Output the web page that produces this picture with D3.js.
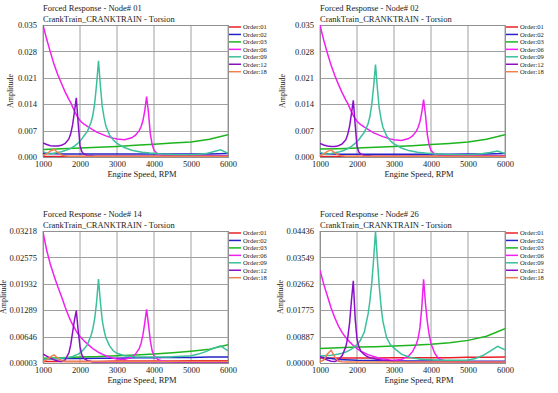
<!DOCTYPE html>
<html>
<head>
<meta charset="utf-8">
<script src="https://d3js.org/d3.v7.min.js"></script>
<style>
body { margin: 0; background: #fff; }
svg text { font-family: "Liberation Serif", "Times New Roman", serif; fill: #222; }
</style>
</head>
<body>
<div id="chart"></div>
<script>
// engine speed samples (RPM)
var rpm = [1000,1100,1200,1300,1400,1500,1600,1700,1750,1800,1850,1900,1950,2000,2050,2100,2200,2300,2350,2400,2450,2500,2550,2600,2650,2700,2800,2900,3000,3200,3400,3500,3600,3650,3700,3750,3800,3850,3900,3950,4000,4100,4200,4400,4600,4800,5000,5200,5400,5600,5800,6000];
var rpmCoarse = [1000,1500,2000,2500,3000,3500,4000,4500,5000,5500,6000];
var rpmTicks = [1000,2000,3000,4000,5000,6000];

var orderNames = ["Order:01","Order:02","Order:03","Order:06","Order:09","Order:12","Order:18"];
var orderColors = ["#e8202a","#2424c8","#1eb41e","#f020f0","#3cc09c","#8a10c8","#f08050"];

// ---- Node 01
var n01Labels = ["0.000","0.007","0.014","0.021","0.028","0.035"];
var n01o01 = [0.0001,0.0001,0.0001,0.0001,0.0001,0.0001,0.0001,0.0001,0.0001,0.0001,0.0001];
var n01o02 = [0.0010,0.0008,0.0008,0.0008,0.0008,0.0008,0.0008,0.0008,0.0008,0.0008,0.0009];
var n01o03 = [0.0020,0.0022,0.0024,0.0026,0.0028,0.0031,0.0034,0.0037,0.0040,0.0047,0.0059];
var n01o06 = [0.0350,0.0312,0.0278,0.0245,0.0218,0.0195,0.0172,0.0153,0.0144,0.0133,
  0.0122,0.0112,0.0104,0.0097,0.0092,0.0088,0.0081,0.0075,0.0072,0.0069,
  0.0066,0.0064,0.0062,0.0060,0.0058,0.0056,0.0053,0.0050,0.0048,0.0046,
  0.0051,0.0058,0.0070,0.0080,0.0096,0.0122,0.0160,0.0118,0.0062,0.0033,
  0.0018,0.0008,0.0005,0.0004,0.0003,0.0003,0.0003,0.0003,0.0003,0.0003,0.0003,0.0003];
var n01o09 = [0.0015,0.0009,0.0008,0.0010,0.0012,0.0014,0.0017,0.0021,0.0023,0.0026,
  0.0029,0.0033,0.0037,0.0042,0.0048,0.0055,0.0068,0.0092,0.0112,0.0145,
  0.0195,0.0255,0.0190,0.0135,0.0105,0.0082,0.0058,0.0045,0.0036,0.0025,
  0.0018,0.0016,0.0014,0.0013,0.0012,0.0012,0.0011,0.0011,0.0010,0.0010,
  0.0010,0.0009,0.0008,0.0007,0.0006,0.0006,0.0006,0.0007,0.0009,0.0014,0.0019,0.0010];
var n01o12 = [0.0037,0.0033,0.0030,0.0029,0.0029,0.0031,0.0036,0.0048,0.0062,0.0085,
  0.0120,0.0157,0.0090,0.0030,0.0014,0.0008,0.0004,0.0003,0.0003,0.0002,
  0.0002,0.0002,0.0002,0.0002,0.0002,0.0002,0.0002,0.0002,0.0002,0.0002,
  0.0002,0.0002,0.0002,0.0002,0.0002,0.0002,0.0002,0.0002,0.0002,0.0002,
  0.0002,0.0002,0.0002,0.0002,0.0002,0.0002,0.0002,0.0002,0.0002,0.0002,0.0002,0.0002];
var n01o18 = [0.0003,0.0008,0.0016,0.0020,0.0012,0.0005,0.0003,0.0002,0.0002,0.0002,
  0.0002,0.0002,0.0002,0.0002,0.0002,0.0002,0.0002,0.0002,0.0002,0.0002,
  0.0002,0.0002,0.0002,0.0002,0.0002,0.0002,0.0002,0.0002,0.0002,0.0002,
  0.0002,0.0002,0.0002,0.0002,0.0002,0.0002,0.0002,0.0002,0.0002,0.0002,
  0.0002,0.0002,0.0002,0.0002,0.0002,0.0002,0.0002,0.0002,0.0002,0.0002,0.0002,0.0002];

// ---- Node 02
var n02Labels = ["0.000","0.007","0.014","0.021","0.028","0.035"];
var n02o01 = [0.0001,0.0001,0.0001,0.0001,0.0001,0.0001,0.0001,0.0001,0.0001,0.0001,0.0001];
var n02o02 = [0.0009,0.0007,0.0007,0.0007,0.0007,0.0007,0.0007,0.0007,0.0008,0.0008,0.0009];
var n02o03 = [0.0021,0.0022,0.0024,0.0026,0.0028,0.0030,0.0033,0.0036,0.0040,0.0047,0.0059];
var n02o06 = [0.0350,0.0310,0.0275,0.0243,0.0216,0.0192,0.0170,0.0151,0.0142,0.0131,
  0.0120,0.0110,0.0102,0.0095,0.0090,0.0086,0.0079,0.0073,0.0070,0.0067,
  0.0064,0.0062,0.0060,0.0058,0.0056,0.0054,0.0051,0.0048,0.0046,0.0044,
  0.0049,0.0056,0.0068,0.0078,0.0093,0.0118,0.0152,0.0112,0.0060,0.0032,
  0.0017,0.0008,0.0005,0.0004,0.0003,0.0003,0.0003,0.0003,0.0003,0.0003,0.0003,0.0003];
var n02o09 = [0.0013,0.0008,0.0008,0.0009,0.0011,0.0013,0.0016,0.0020,0.0022,0.0025,
  0.0028,0.0032,0.0036,0.0041,0.0046,0.0053,0.0066,0.0088,0.0108,0.0140,
  0.0188,0.0245,0.0183,0.0130,0.0101,0.0079,0.0056,0.0043,0.0035,0.0024,
  0.0017,0.0015,0.0013,0.0012,0.0012,0.0011,0.0011,0.0010,0.0010,0.0009,
  0.0009,0.0008,0.0008,0.0007,0.0006,0.0006,0.0006,0.0007,0.0009,0.0012,0.0016,0.0009];
var n02o12 = [0.0036,0.0032,0.0029,0.0028,0.0028,0.0030,0.0035,0.0046,0.0060,0.0082,
  0.0115,0.0150,0.0086,0.0029,0.0013,0.0008,0.0004,0.0003,0.0003,0.0002,
  0.0002,0.0002,0.0002,0.0002,0.0002,0.0002,0.0002,0.0002,0.0002,0.0002,
  0.0002,0.0002,0.0002,0.0002,0.0002,0.0002,0.0002,0.0002,0.0002,0.0002,
  0.0002,0.0002,0.0002,0.0002,0.0002,0.0002,0.0002,0.0002,0.0002,0.0002,0.0002,0.0002];
var n02o18 = [0.0003,0.0008,0.0015,0.0019,0.0011,0.0005,0.0003,0.0002,0.0002,0.0002,
  0.0002,0.0002,0.0002,0.0002,0.0002,0.0002,0.0002,0.0002,0.0002,0.0002,
  0.0002,0.0002,0.0002,0.0002,0.0002,0.0002,0.0002,0.0002,0.0002,0.0002,
  0.0002,0.0002,0.0002,0.0002,0.0002,0.0002,0.0002,0.0002,0.0002,0.0002,
  0.0002,0.0002,0.0002,0.0002,0.0002,0.0002,0.0002,0.0002,0.0002,0.0002,0.0002,0.0002];

// ---- Node 14
var n14Labels = ["0.00003","0.00646","0.01289","0.01932","0.02575","0.03218"];
var n14o01 = [0.0004,0.0004,0.0004,0.0004,0.0005,0.0005,0.0005,0.0005,0.0006,0.0006,0.0006];
var n14o02 = [0.0010,0.0011,0.0011,0.0012,0.0012,0.0013,0.0013,0.0014,0.0014,0.0015,0.0015];
var n14o03 = [0.0012,0.0013,0.0015,0.0016,0.0018,0.0020,0.0022,0.0025,0.0029,0.0034,0.0045];
var n14o06 = [0.0319,0.0275,0.0240,0.0212,0.0186,0.0162,0.0136,0.0113,0.0103,0.0094,
  0.0086,0.0078,0.0071,0.0065,0.0060,0.0055,0.0047,0.0039,0.0035,0.0032,
  0.0029,0.0026,0.0024,0.0022,0.0020,0.0018,0.0015,0.0012,0.0010,0.0009,
  0.0015,0.0022,0.0035,0.0048,0.0068,0.0098,0.0131,0.0095,0.0055,0.0030,
  0.0018,0.0009,0.0006,0.0004,0.0003,0.0003,0.0003,0.0003,0.0003,0.0003,0.0003,0.0003];
var n14o09 = [0.0010,0.0010,0.0010,0.0011,0.0011,0.0012,0.0013,0.0014,0.0015,0.0016,
  0.0018,0.0020,0.0022,0.0025,0.0029,0.0033,0.0045,0.0068,0.0085,0.0110,
  0.0150,0.0205,0.0150,0.0105,0.0080,0.0062,0.0042,0.0030,0.0024,0.0018,
  0.0016,0.0015,0.0015,0.0015,0.0015,0.0015,0.0015,0.0015,0.0015,0.0015,
  0.0015,0.0015,0.0015,0.0015,0.0016,0.0017,0.0018,0.0022,0.0028,0.0036,0.0042,0.0030];
var n14o12 = [0.0022,0.0017,0.0012,0.0008,0.0005,0.0004,0.0008,0.0025,0.0045,0.0075,
  0.0105,0.0128,0.0080,0.0040,0.0020,0.0012,0.0006,0.0004,0.0003,0.0003,
  0.0003,0.0003,0.0003,0.0003,0.0003,0.0003,0.0003,0.0003,0.0003,0.0003,
  0.0003,0.0003,0.0003,0.0003,0.0003,0.0003,0.0003,0.0003,0.0003,0.0003,
  0.0003,0.0003,0.0003,0.0003,0.0003,0.0003,0.0003,0.0003,0.0003,0.0003,0.0003,0.0003];
var n14o18 = [0.0004,0.0008,0.0015,0.0020,0.0012,0.0006,0.0004,0.0004,0.0004,0.0004,
  0.0004,0.0004,0.0004,0.0004,0.0004,0.0004,0.0004,0.0004,0.0004,0.0004,
  0.0004,0.0004,0.0004,0.0004,0.0004,0.0004,0.0004,0.0004,0.0004,0.0004,
  0.0004,0.0004,0.0004,0.0004,0.0004,0.0004,0.0004,0.0004,0.0004,0.0004,
  0.0004,0.0004,0.0004,0.0004,0.0004,0.0004,0.0004,0.0004,0.0004,0.0004,0.0004,0.0004];

// ---- Node 26
var n26Labels = ["0.00000","0.00887","0.01775","0.02662","0.03549","0.04436"];
var n26o01 = [0.0017,0.0017,0.0017,0.0017,0.0018,0.0018,0.0018,0.0018,0.0019,0.0019,0.0020];
var n26o02 = [0.0020,0.0012,0.0009,0.0008,0.0007,0.0007,0.0007,0.0006,0.0006,0.0006,0.0006];
var n26o03 = [0.0049,0.0051,0.0054,0.0055,0.0057,0.0060,0.0063,0.0068,0.0076,0.0090,0.0115];
var n26o06 = [0.0312,0.0265,0.0225,0.0185,0.0152,0.0124,0.0102,0.0085,0.0078,0.0071,
  0.0065,0.0059,0.0054,0.0048,0.0044,0.0040,0.0034,0.0028,0.0026,0.0024,
  0.0022,0.0020,0.0018,0.0017,0.0015,0.0014,0.0012,0.0010,0.0009,0.0012,
  0.0024,0.0038,0.0062,0.0082,0.0118,0.0185,0.0281,0.0200,0.0140,0.0095,
  0.0065,0.0033,0.0015,0.0006,0.0004,0.0003,0.0003,0.0003,0.0003,0.0003,0.0003,0.0003];
var n26o09 = [0.0024,0.0024,0.0025,0.0026,0.0028,0.0030,0.0033,0.0037,0.0040,0.0043,
  0.0047,0.0051,0.0056,0.0062,0.0069,0.0078,0.0105,0.0165,0.0210,0.0270,
  0.0350,0.0443,0.0350,0.0260,0.0190,0.0140,0.0085,0.0062,0.0050,0.0030,
  0.0020,0.0017,0.0015,0.0014,0.0013,0.0013,0.0012,0.0012,0.0012,0.0011,
  0.0011,0.0010,0.0010,0.0009,0.0009,0.0009,0.0010,0.0015,0.0025,0.0040,0.0056,0.0044];
var n26o12 = [0.0022,0.0015,0.0010,0.0006,0.0005,0.0010,0.0025,0.0055,0.0085,0.0135,
  0.0210,0.0276,0.0150,0.0080,0.0055,0.0040,0.0028,0.0020,0.0018,0.0016,
  0.0015,0.0013,0.0012,0.0011,0.0010,0.0009,0.0008,0.0007,0.0006,0.0005,
  0.0004,0.0004,0.0004,0.0004,0.0004,0.0004,0.0004,0.0004,0.0004,0.0004,
  0.0004,0.0004,0.0004,0.0004,0.0004,0.0004,0.0004,0.0004,0.0004,0.0004,0.0004,0.0004];
var n26o18 = [0.0005,0.0010,0.0030,0.0043,0.0020,0.0006,0.0004,0.0003,0.0003,0.0003,
  0.0003,0.0003,0.0003,0.0003,0.0003,0.0003,0.0003,0.0003,0.0003,0.0003,
  0.0003,0.0003,0.0003,0.0003,0.0003,0.0003,0.0003,0.0003,0.0003,0.0003,
  0.0003,0.0003,0.0003,0.0003,0.0003,0.0003,0.0003,0.0003,0.0003,0.0003,
  0.0003,0.0003,0.0003,0.0003,0.0003,0.0003,0.0003,0.0003,0.0003,0.0003,0.0003,0.0003];

var panels = [
  { node: "01", left: 43, top: 25, ylab: -30, labels: n01Labels,
    series: [[rpmCoarse, n01o01], [rpmCoarse, n01o02], [rpmCoarse, n01o03], [rpm, n01o06], [rpm, n01o09], [rpm, n01o12], [rpm, n01o18]] },
  { node: "02", left: 320, top: 25, ylab: -35, labels: n02Labels,
    series: [[rpmCoarse, n02o01], [rpmCoarse, n02o02], [rpmCoarse, n02o03], [rpm, n02o06], [rpm, n02o09], [rpm, n02o12], [rpm, n02o18]] },
  { node: "14", left: 43, top: 231, ylab: -37, labels: n14Labels,
    series: [[rpmCoarse, n14o01], [rpmCoarse, n14o02], [rpmCoarse, n14o03], [rpm, n14o06], [rpm, n14o09], [rpm, n14o12], [rpm, n14o18]] },
  { node: "26", left: 320, top: 231, ylab: -37, labels: n26Labels,
    series: [[rpmCoarse, n26o01], [rpmCoarse, n26o02], [rpmCoarse, n26o03], [rpm, n26o06], [rpm, n26o09], [rpm, n26o12], [rpm, n26o18]] }
];

var W = 185, H = 132;

var svg = d3.select("#chart").append("svg")
  .attr("width", 558)
  .attr("height", 393);

panels.forEach(function (p, pi) {
  var vals = p.labels.map(Number);
  var x = d3.scaleLinear().domain([1000, 6000]).range([0, W]);
  var y = d3.scaleLinear().domain([vals[0], vals[vals.length - 1]]).range([H, 0]);

  var g = svg.append("g").attr("transform", "translate(" + p.left + "," + p.top + ")");

  g.append("clipPath").attr("id", "clip" + pi)
    .append("rect").attr("x", 0).attr("y", -1).attr("width", W).attr("height", H + 1);

  // titles
  g.append("text").attr("x", 0).attr("y", -14).attr("font-size", 8.5)
    .text("Forced Response - Node# " + p.node);
  g.append("text").attr("x", 0).attr("y", -3).attr("font-size", 8.5)
    .text("CrankTrain_CRANKTRAIN - Torsion");

  // grid
  g.selectAll(".vgrid").data(rpmTicks).enter().append("line")
    .attr("x1", function (d) { return x(d); }).attr("x2", function (d) { return x(d); })
    .attr("y1", 0).attr("y2", H)
    .attr("stroke", "#a0a0a0").attr("stroke-width", 1);
  g.selectAll(".hgrid").data(vals).enter().append("line")
    .attr("x1", 0).attr("x2", W)
    .attr("y1", function (d) { return Math.round(y(d)) + 0.5; })
    .attr("y2", function (d) { return Math.round(y(d)) + 0.5; })
    .attr("stroke", "#a0a0a0").attr("stroke-width", 1);
  g.append("rect").attr("x", 0.5).attr("y", 0.5).attr("width", W).attr("height", H)
    .attr("fill", "none").attr("stroke", "#909090");

  // axes
  var ya = d3.axisLeft(y).tickValues(vals).tickSize(0).tickPadding(6)
    .tickFormat(function (d, i) { return p.labels[i]; });
  var ay = g.append("g").call(ya);
  ay.select(".domain").remove();
  ay.selectAll("text").attr("font-size", 8.5).attr("font-family", "Liberation Serif").attr("fill", "#222");

  var xa = d3.axisBottom(x).tickValues(rpmTicks).tickSize(0).tickPadding(4)
    .tickFormat(d3.format("d"));
  var ax = g.append("g").attr("transform", "translate(0," + H + ")").call(xa);
  ax.select(".domain").remove();
  ax.selectAll("text").attr("font-size", 8.5).attr("font-family", "Liberation Serif").attr("fill", "#222");

  g.append("text").attr("x", 99).attr("y", H + 20).attr("text-anchor", "middle")
    .attr("font-size", 8.5).text("Engine Speed, RPM");
  g.append("text").attr("transform", "translate(" + p.ylab + "," + (H / 2) + ") rotate(-90)")
    .attr("text-anchor", "middle").attr("font-size", 8).text("Amplitude");

  // curves
  var line = d3.line()
    .x(function (d) { return x(d[0]); })
    .y(function (d) { return y(d[1]); });
  var lines = g.append("g").attr("clip-path", "url(#clip" + pi + ")");
  p.series.forEach(function (s, si) {
    var pts = s[0].map(function (r, k) { return [r, s[1][k]]; });
    lines.append("path").datum(pts)
      .attr("d", line)
      .attr("fill", "none")
      .attr("stroke", orderColors[si])
      .attr("stroke-width", 1.5);
  });

  // legend
  for (var i = 0; i < orderNames.length; i++) {
    var ly = 2 + i * 7.45;
    g.append("line").attr("x1", W + 1).attr("x2", W + 13)
      .attr("y1", ly).attr("y2", ly)
      .attr("stroke", orderColors[i]).attr("stroke-width", 1.5);
    g.append("text").attr("x", W + 15).attr("y", ly + 2.3)
      .attr("font-size", 6.6).text(orderNames[i]);
  }
});
</script>
</body>
</html>
